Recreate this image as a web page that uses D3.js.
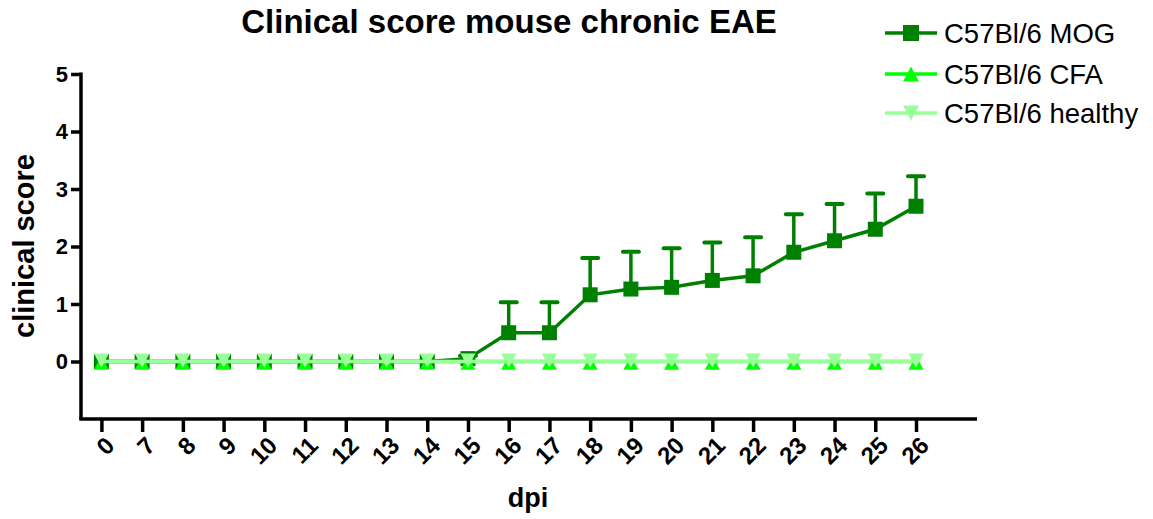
<!DOCTYPE html>
<html>
<head>
<meta charset="utf-8">
<script src="https://cdn.jsdelivr.net/npm/d3@7"></script>
<style>
  html, body { margin: 0; padding: 0; background: #fff; }
  svg { display: block; font-family: "Liberation Sans", Arial, sans-serif; }
</style>
</head>
<body>
<svg id="chart" width="1153" height="519"></svg>
<script>
// ---- data ----
const categories = ["0","7","8","9","10","11","12","13","14","15","16","17","18","19","20","21","22","23","24","25","26"];
const mogMean  = [0,0,0,0,0,0,0,0,0,0.05,0.5,0.5,1.16,1.26,1.29,1.41,1.49,1.9,2.1,2.3,2.7];
const mogError = [0,0,0,0,0,0,0,0,0,0.05,0.53,0.53,0.64,0.65,0.68,0.66,0.67,0.66,0.64,0.62,0.52];
const cfaMean     = [0,0,0,0,0,0,0,0,0,0,0,0,0,0,0,0,0,0,0,0,0];
const healthyMean = [0,0,0,0,0,0,0,0,0,0,0,0,0,0,0,0,0,0,0,0,0];
const yTicks = [0,1,2,3,4,5];
const seriesNames = ["C57Bl/6 MOG","C57Bl/6 CFA","C57Bl/6 healthy"];
const seriesColors = ["#008000","#00ff00","#99ff99"];
const titleText = "Clinical score mouse chronic EAE";
const xLabel = "dpi";
const yLabel = "clinical score";

// ---- chart ----
const svg = d3.select("#chart");
const font = '"Liberation Sans", Arial, sans-serif';

const x = d3.scalePoint().domain(categories).range([101.4, 916]);
const y = d3.scaleLinear().domain([-1, 5]).range([419, 74]);
const axisLeftX = 81, axisRightX = 977, axisBottomY = 419;

// title
svg.append("text").attr("x", 509).attr("y", 33).attr("text-anchor", "middle")
  .attr("font-size", 33).attr("font-weight", "bold").attr("fill", "#000").text(titleText);

// y axis
const yAxis = svg.append("g").attr("transform", `translate(${axisLeftX},0)`)
  .call(d3.axisLeft(y).tickValues(yTicks).tickFormat(d3.format("d")).tickSize(10).tickSizeOuter(0).tickPadding(3));
yAxis.select(".domain").attr("stroke", "#000").attr("stroke-width", 3.5);
yAxis.selectAll(".tick line").attr("stroke", "#000").attr("stroke-width", 3.5);
yAxis.selectAll(".tick text").attr("font-size", 22).attr("font-weight", "bold")
  .attr("font-family", font).attr("fill", "#000");
yAxis.select(".domain").attr("d", `M0,${y(5) - 1.5}V${axisBottomY}`);

// x axis
const xAxis = svg.append("g").attr("transform", `translate(0,${axisBottomY})`)
  .call(d3.axisBottom(x).tickSize(13).tickSizeOuter(0));
xAxis.select(".domain").remove();
xAxis.selectAll(".tick line").attr("stroke", "#000").attr("stroke-width", 3.5);
xAxis.selectAll(".tick text")
  .attr("font-size", 24).attr("font-weight", "bold").attr("font-family", font).attr("fill", "#000")
  .attr("text-anchor", "end")
  .attr("transform", "translate(8,22) rotate(-45)")
  .attr("x", 0).attr("y", 0).attr("dy", "0.35em");
svg.append("line").attr("x1", axisLeftX - 1.75).attr("x2", axisRightX)
  .attr("y1", axisBottomY).attr("y2", axisBottomY)
  .attr("stroke", "#000").attr("stroke-width", 3.5);

// axis labels
svg.append("text").attr("x", 528).attr("y", 507).attr("text-anchor", "middle")
  .attr("font-size", 27).attr("font-weight", "bold").text(xLabel);
svg.append("text").attr("transform", "translate(34,246) rotate(-90)").attr("text-anchor", "middle")
  .attr("font-size", 29).attr("font-weight", "bold").text(yLabel);

// markers
const sq = 15;
function drawSquare(g, cx, cy, color, s) {
  g.append("rect").attr("x", cx - s / 2).attr("y", cy - s / 2).attr("width", s).attr("height", s).attr("fill", color);
}
function drawTri(g, cx, cy, color, down, size) {
  const w = size, h = size * 0.95;
  const pts = down
    ? [[cx - w / 2, cy - h / 2], [cx + w / 2, cy - h / 2], [cx, cy + h / 2]]
    : [[cx - w / 2, cy + h / 2], [cx + w / 2, cy + h / 2], [cx, cy - h / 2]];
  g.append("path").attr("d", "M" + pts.map(p => p.join(",")).join("L") + "Z").attr("fill", color);
}

const line = d3.line().x((d, i) => x(categories[i])).y(d => y(d));

// MOG series
const gMog = svg.append("g");
categories.forEach((c, i) => {
  if (mogError[i] > 0) {
    const top = y(mogMean[i] + mogError[i]);
    gMog.append("line").attr("x1", x(c)).attr("x2", x(c)).attr("y1", y(mogMean[i])).attr("y2", top)
      .attr("stroke", seriesColors[0]).attr("stroke-width", 3.5);
    gMog.append("line").attr("x1", x(c) - 8).attr("x2", x(c) + 8).attr("y1", top).attr("y2", top)
      .attr("stroke", seriesColors[0]).attr("stroke-width", 4).attr("stroke-linecap", "round");
  }
});
gMog.append("path").datum(mogMean).attr("d", line).attr("fill", "none")
  .attr("stroke", seriesColors[0]).attr("stroke-width", 3.5);
mogMean.forEach((v, i) => drawSquare(gMog, x(categories[i]), y(v), seriesColors[0], sq));

// CFA series
const gCfa = svg.append("g");
gCfa.append("path").datum(cfaMean).attr("d", line).attr("fill", "none")
  .attr("stroke", seriesColors[1]).attr("stroke-width", 3.5);
cfaMean.forEach((v, i) => drawTri(gCfa, x(categories[i]), y(v) + 1, seriesColors[1], false, 15));

// healthy series
const gH = svg.append("g");
gH.append("path").datum(healthyMean).attr("d", line).attr("fill", "none")
  .attr("stroke", seriesColors[2]).attr("stroke-width", 3.5);
healthyMean.forEach((v, i) => drawTri(gH, x(categories[i]), y(v) - 1, seriesColors[2], true, 15));

// legend
const legendY = [33, 74, 113];
seriesNames.forEach((name, i) => {
  const g = svg.append("g");
  const ly = legendY[i];
  g.append("line").attr("x1", 885).attr("x2", 937).attr("y1", ly).attr("y2", ly)
    .attr("stroke", seriesColors[i]).attr("stroke-width", 3.5);
  if (i === 0) drawSquare(g, 911, ly, seriesColors[i], 16);
  else drawTri(g, 911, ly, seriesColors[i], i === 2, 16);
  g.append("text").attr("x", 944).attr("y", ly + 10).attr("font-size", 27.5).attr("fill", "#000").text(name);
});
</script>
</body>
</html>
